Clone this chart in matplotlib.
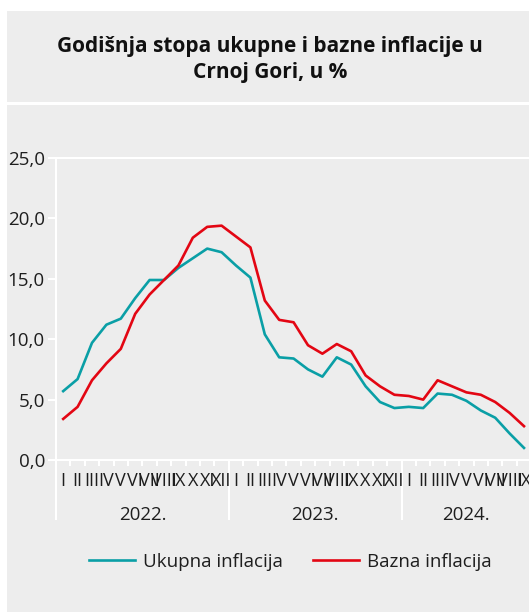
"""Godisnja stopa ukupne i bazne inflacije u Crnoj Gori."""
import matplotlib
matplotlib.use("Agg")
import matplotlib.pyplot as plt
import matplotlib.transforms as mtransforms
from matplotlib.patches import Rectangle
import numpy as np

years = ["2022.", "2023.", "2024."]
months_per_year = [12, 12, 9]
roman = ["I", "II", "III", "IV", "V", "VI", "VII", "VIII", "IX", "X", "XI", "XII"]

ukupna = [5.7, 6.7, 9.7, 11.2, 11.7, 13.4, 14.9, 14.9, 15.9, 16.7, 17.5, 17.2,
          16.1, 15.1, 10.4, 8.5, 8.4, 7.5, 6.9, 8.5, 7.9, 6.1, 4.8, 4.3,
          4.4, 4.3, 5.5, 5.4, 4.9, 4.1, 3.5, 2.2, 1.0]
bazna = [3.4, 4.4, 6.6, 8.0, 9.2, 12.1, 13.7, 14.9, 16.1, 18.4, 19.3, 19.4,
         18.5, 17.6, 13.2, 11.6, 11.4, 9.5, 8.8, 9.6, 9.0, 7.0, 6.1, 5.4,
         5.3, 5.0, 6.6, 6.1, 5.6, 5.4, 4.8, 3.9, 2.8]

month_labels = [roman[m] for n in months_per_year for m in range(n)]

BG = "#ededed"
TEAL = "#0a9fa6"
RED = "#e30613"
TXT = "#1e1e1e"
FONT = ["Open Sans", "DejaVu Sans"]
plt.rcParams["font.family"] = FONT

fig = plt.figure(figsize=(5.29, 6.13), dpi=100)
W, H = 529, 613
# grey panels behind everything
fig.patches.append(Rectangle((7 / W, 1 - 102 / H), 1, 91 / H, transform=fig.transFigure,
                             facecolor=BG, edgecolor="none", zorder=-10))
fig.patches.append(Rectangle((7 / W, 1 - 612 / H), 1, 507 / H, transform=fig.transFigure,
                             facecolor=BG, edgecolor="none", zorder=-10))

fig.text(270 / W, 1 - 59.5 / H, "Godišnja stopa ukupne i bazne inflacije u\nCrnoj Gori, u %",
         ha="center", va="center", fontsize=15, fontweight="bold", color="#111111",
         linespacing=1.3)

n = len(ukupna)
x = np.arange(n)
ax = fig.add_axes([56 / W, 153 / H, 14.4 * n / W, 302 / H])
ax.set_facecolor("none")
ax.plot(x, ukupna, color=TEAL, lw=1.9, label="Ukupna inflacija")
ax.plot(x, bazna, color=RED, lw=1.9, label="Bazna inflacija")
ax.set_xlim(-0.5, n - 0.5)
ax.set_ylim(0, 25)

for s in ["left", "bottom", "top"]:
    ax.spines[s].set_color("white")
    ax.spines[s].set_linewidth(1.5)
ax.spines["right"].set_visible(False)

ax.set_yticks(np.arange(0, 26, 5))
ax.set_yticklabels([f"{v:.1f}".replace(".", ",") for v in np.arange(0, 26, 5)])
ax.tick_params(axis="y", colors="white", width=1.5, length=6, pad=2,
               labelcolor=TXT, labelsize=13.5)

bounds = np.cumsum([0] + months_per_year) - 0.5
ax.set_xticks(bounds[:-1])
ax.set_xticklabels([])
ax.set_xticks(np.arange(n + 1) - 0.5, minor=True)
ax.tick_params(axis="x", which="major", colors="white", width=1.5, length=43)
ax.tick_params(axis="x", which="minor", colors="white", width=1.5, length=4)

tr = mtransforms.blended_transform_factory(ax.transData, fig.transFigure)
for i, lab in enumerate(month_labels):
    fig.text(i, 1 - 481 / H, lab, transform=tr, ha="center", va="center",
             fontsize=13, color=TXT, family=["Liberation Sans Narrow", "Open Sans"])
start = 0
for yr, m in zip(years, months_per_year):
    fig.text(start + (m - 1) / 2, 1 - 515 / H, yr, transform=tr,
             ha="center", va="center", fontsize=13.5, color=TXT)
    start += m

fig.legend(loc="center", bbox_to_anchor=(290 / W, 1 - 562 / H), ncol=2, frameon=False,
           fontsize=13.5, handlelength=2.45, handletextpad=0.43, columnspacing=1.6,
           labelcolor=TXT)

fig.savefig("out.png", dpi=100)
